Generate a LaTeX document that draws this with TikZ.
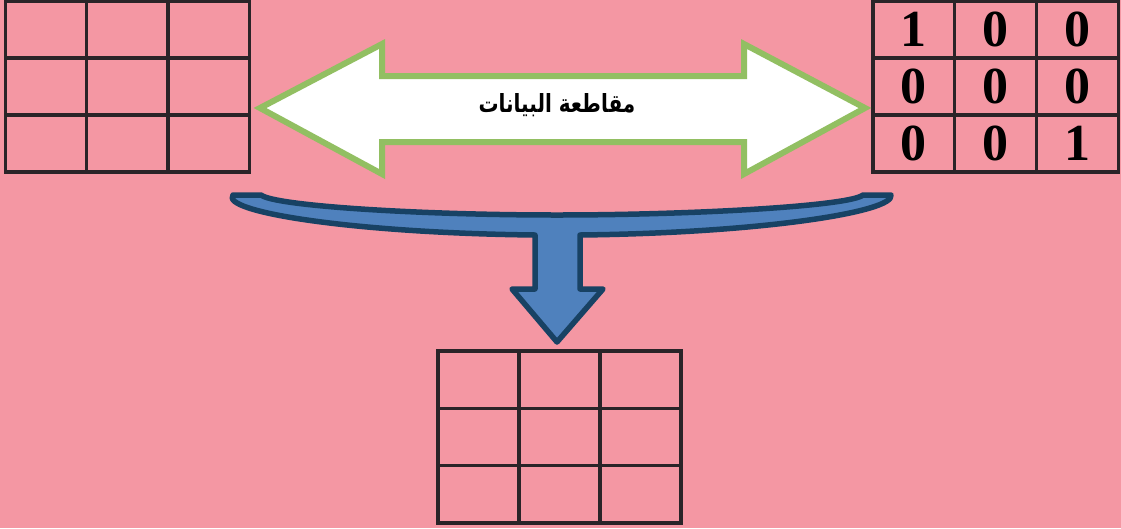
\documentclass[tikz,border=0pt]{standalone}
\usepackage{fontspec}
\setmainfont{Liberation Serif}
\newfontfamily\arabicfont[Script=Arabic]{DejaVu Sans}
\TeXXeTstate=1
\definecolor{bgpink}{RGB}{244,151,163}
\definecolor{gridline}{RGB}{42,36,40}
\definecolor{arrgreen}{RGB}{146,191,98}
\definecolor{bluefill}{RGB}{79,129,189}
\definecolor{blueline}{RGB}{24,66,100}
\begin{document}
\begin{tikzpicture}[x=1pt,y=-1pt,
  cell/.style={draw=gridline,line width=3.2pt,inner sep=0pt,rectangle,font=\bfseries\fontsize{52}{52}\selectfont},
  dblarrow/.style={draw=arrgreen,fill=white,line width=6pt,line join=miter},
  bluearrow/.style={draw=blueline,fill=bluefill,line width=5.5pt,line join=round},
  lbl/.style={font=\arabicfont\bfseries\fontsize{20}{20}\selectfont,inner sep=0pt}]
\fill[bgpink] (0,0) rectangle (1121,528);
\useasboundingbox (0,0) rectangle (1121,528);
% left grid
\foreach \r in {0,1,2}{\foreach \c in {0,1,2}{
  \node[cell,minimum width=81.2pt,minimum height=57pt] (L\r\c) at ({5.5+40.6+81.2*\c},{1+28.5+57*\r}) {};}}
% bottom grid
\foreach \r in {0,1,2}{\foreach \c in {0,1,2}{
  \node[cell,minimum width=81pt,minimum height=57.3pt] (B\r\c) at ({438+40.5+81*\c},{351+28.65+57.3*\r}) {};}}
% right grid with values
\node[cell,minimum width=81.7pt,minimum height=57pt] (R00) at ({873+40.85},29.5) {1};
\node[cell,minimum width=81.7pt,minimum height=57pt] (R01) at ({873+40.85+81.7},29.5) {0};
\node[cell,minimum width=81.7pt,minimum height=57pt] (R02) at ({873+40.85+163.4},29.5) {0};
\node[cell,minimum width=81.7pt,minimum height=57pt] (R10) at ({873+40.85},86.5) {0};
\node[cell,minimum width=81.7pt,minimum height=57pt] (R11) at ({873+40.85+81.7},86.5) {0};
\node[cell,minimum width=81.7pt,minimum height=57pt] (R12) at ({873+40.85+163.4},86.5) {0};
\node[cell,minimum width=81.7pt,minimum height=57pt] (R20) at ({873+40.85},143.5) {0};
\node[cell,minimum width=81.7pt,minimum height=57pt] (R21) at ({873+40.85+81.7},143.5) {0};
\node[cell,minimum width=81.7pt,minimum height=57pt] (R22) at ({873+40.85+163.4},143.5) {1};
% double arrow
\draw[dblarrow] (260,108) -- (382,44) -- (382,76) -- (744,76) -- (744,44) -- (865,108)
  -- (744,174) -- (744,142) -- (382,142) -- (382,174) -- cycle;
\node[lbl] (t) at (557,105) {\scalebox{1}[1.25]{\beginR مقاطعة البيانات\endR}};
% curved merge arrow
\draw[bluearrow] (233,195) -- (261,195) .. controls (275,206) and (420,215) .. (557,215)
  .. controls (694,215) and (850,206) .. (863,195) -- (891,195)
  .. controls (895,212) and (760,233) .. (580,235) -- (580,289) -- (603,289) -- (557,342)
  -- (512,289) -- (535,289) -- (535,235)
  .. controls (354,233) and (220,212) .. (233,195) -- cycle;
\end{tikzpicture}
\end{document}
